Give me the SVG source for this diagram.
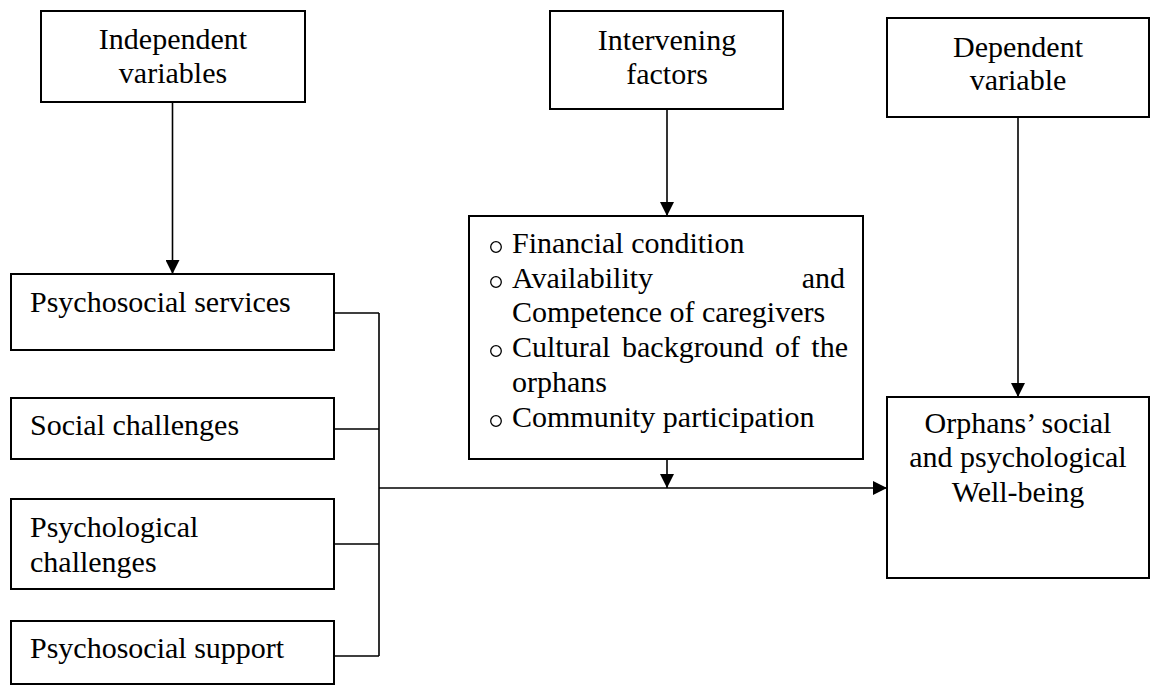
<svg xmlns="http://www.w3.org/2000/svg" width="1153" height="688" viewBox="0 0 1153 688">
<style>
.box{fill:#fff;stroke:#000;stroke-width:2}
.ln{fill:none;stroke:#000;stroke-width:1.6}
.bul{fill:none;stroke:#000;stroke-width:1.3}
</style>
<defs>
<marker id="ah" markerWidth="14" markerHeight="14" refX="14" refY="7" orient="auto" markerUnits="userSpaceOnUse">
<path d="M0,0 L14,7 L0,14 Z" fill="#000"/>
</marker>
</defs>
<rect width="1153" height="688" fill="#fff"/>
<g id="connectors">
<path class="ln" d="M172.5,102 V274" marker-end="url(#ah)"/>
<path class="ln" d="M667,109 V216" marker-end="url(#ah)"/>
<path class="ln" d="M1018,117 V397" marker-end="url(#ah)"/>
<path class="ln" d="M667,459 V488" marker-end="url(#ah)"/>
<path class="ln" d="M334,313 H379 M334,429 H379 M334,544 H379 M334,656 H379 M379,313 V656"/>
<path class="ln" d="M379,488 H887" marker-end="url(#ah)"/>
</g>
<g font-family="Liberation Serif, Times New Roman, serif" font-size="30" fill="#000">
<g id="n-independent">
<rect class="box" x="41" y="11" width="264" height="91"/>
<text text-anchor="middle" x="173" y="49">Independent</text>
<text text-anchor="middle" x="173" y="83">variables</text>
</g>
<g id="n-intervening">
<rect class="box" x="550" y="11" width="233" height="98"/>
<text text-anchor="middle" x="667" y="50">Intervening</text>
<text text-anchor="middle" x="667" y="84">factors</text>
</g>
<g id="n-dependent">
<rect class="box" x="887" y="18" width="262" height="99"/>
<text text-anchor="middle" x="1018" y="57">Dependent</text>
<text text-anchor="middle" x="1018" y="90">variable</text>
</g>
<g id="n-factors">
<rect class="box" x="469" y="216" width="394" height="243"/>
<circle class="bul" cx="496" cy="247" r="5.3"/>
<circle class="bul" cx="496" cy="282" r="5.3"/>
<circle class="bul" cx="496" cy="351" r="5.3"/>
<circle class="bul" cx="496" cy="421" r="5.3"/>
<text x="512" y="253">Financial condition</text>
<text x="512" y="288">Availability</text>
<text text-anchor="end" x="845" y="288">and</text>
<text x="512" y="322">Competence of caregivers</text>
<text x="512" y="357">Cultural</text>
<text x="622" y="357">background</text>
<text x="775" y="357">of</text>
<text text-anchor="end" x="848" y="357">the</text>
<text x="512" y="392">orphans</text>
<text x="512" y="427">Community participation</text>
</g>
<g id="n-wellbeing">
<rect class="box" x="887" y="397" width="262" height="181"/>
<text text-anchor="middle" x="1018" y="433">Orphans’ social</text>
<text text-anchor="middle" x="1018" y="467">and psychological</text>
<text text-anchor="middle" x="1018" y="502">Well-being</text>
</g>
<g id="n-services">
<rect class="box" x="11" y="274" width="323" height="76"/>
<text x="30" y="312">Psychosocial services</text>
</g>
<g id="n-social">
<rect class="box" x="11" y="398" width="323" height="61"/>
<text x="30" y="435">Social challenges</text>
</g>
<g id="n-psychological">
<rect class="box" x="11" y="499" width="323" height="90"/>
<text x="30" y="537">Psychological</text>
<text x="30" y="572">challenges</text>
</g>
<g id="n-support">
<rect class="box" x="11" y="621" width="323" height="63"/>
<text x="30" y="658">Psychosocial support</text>
</g>
</g>
</svg>
